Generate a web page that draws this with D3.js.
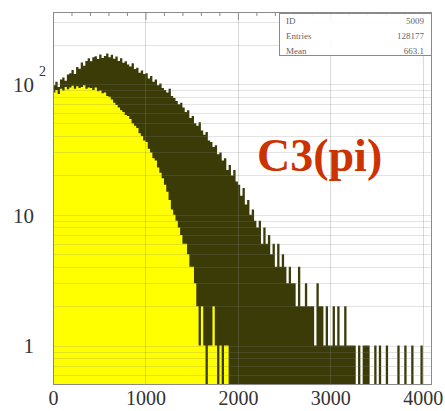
<!DOCTYPE html>
<html>
<head>
<meta charset="utf-8">
<script src="https://cdn.jsdelivr.net/npm/d3@7"></script>
<style>
  html, body { margin: 0; padding: 0; background: #fff; }
  svg { display: block; }
</style>
</head>
<body>
<svg id="chart" width="445" height="411"></svg>
<script>
// Bin width of both histograms (x units)
const binWidth = 25;

// Full C3 spectrum, counts per 25-wide bin starting at 0
const allCounts = [
  98, 104, 95, 108,   112, 106, 118, 121,   128, 119, 135, 131,   146, 138, 150, 157,
  149, 160, 163, 155, 168, 158, 164, 171,   160, 167, 156, 162,   150, 157, 145, 149,
  141, 136, 144, 130, 133, 122, 127, 119,   121, 110, 115, 104,   108, 98, 101, 93,
  90, 86, 92, 81,     78, 74, 70, 72,       66, 61, 63, 55,       57, 50, 48, 51,
  44, 41, 43, 37,     36, 33, 34, 29,       30, 26, 27, 22,       24, 20, 22, 18,
  17, 14, 16, 12,     13, 10, 11, 9,        8, 9, 6, 8,           6, 7, 5, 6,
  4, 6, 4, 5,         4, 3, 4, 3,           3, 2, 4, 2,           2, 3, 2, 2,
  2, 1, 3, 2,         2, 1, 2, 1,           1, 2, 1, 2,           1, 1, 2, 1,
  1, 1, 1, 0,         1, 0, 1, 1,           1, 0, 0, 1,           0, 1, 0, 0,
  1, 0, 0, 0,         0, 1, 0, 0,           1, 0, 0, 1,           0, 0, 0, 1,
  0, 0, 0, 0
];

// Selected (pion) subset, counts per 25-wide bin starting at 0
const pionCounts = [
  86, 90, 84, 92,     89, 95, 91, 94,       97, 92, 96, 93,       95, 98, 92, 94,
  93, 90, 94, 88,     89, 85, 86, 81,       80, 76, 72, 69,       66, 63, 61, 58,
  57, 54, 50, 48,     46, 42, 40, 37,       36, 32, 30, 27,       26, 23, 21, 19,
  17, 15, 13, 11,     10, 9, 8, 7,          6, 6, 5, 4,           4, 3, 2, 1,
  2, 1, 0, 1,         1, 2, 1, 0,           1, 0, 1, 1,           0, 0, 0, 0
];

// Axis ticks
const xTicks = [0, 1000, 2000, 3000, 4000];
const yTicks = [1, 10, 100];

// Statistics box
const statNames = ["ID", "Entries", "Mean"];
const statValues = ["5009", "128177", "663.1"];

const title = "C3(pi)";

const svg = d3.select("#chart");
const plot = { left: 53, right: 432, top: 12, bottom: 385 };

const x = d3.scaleLinear().domain([0, 4100]).range([plot.left, plot.right]);
const y = d3.scaleLog().domain([0.5, 355]).range([plot.bottom, plot.top]);

// Step outline of a histogram; empty bins fall to the baseline
function histPath(counts) {
  const pts = counts.map((c, i) => [i * binWidth, c]);
  pts.push([counts.length * binWidth, counts[counts.length - 1]]);
  return d3.area()
    .x(d => x(d[0]))
    .y0(plot.bottom)
    .y1(d => d[1] > 0 ? y(d[1]) : plot.bottom)
    .curve(d3.curveStepAfter)(pts);
}

svg.append("defs").append("clipPath").attr("id", "frame")
  .append("rect")
  .attr("x", plot.left).attr("y", plot.top)
  .attr("width", plot.right - plot.left).attr("height", plot.bottom - plot.top);

const body = svg.append("g").attr("clip-path", "url(#frame)");

body.append("path")
  .attr("d", histPath(allCounts))
  .attr("fill", "#3b3b08");

body.append("path")
  .attr("d", histPath(pionCounts))
  .attr("fill", "#ffff00");

// Grid on top of the histograms
const minorY = [];
[0.1, 1, 10, 100].forEach(dec => {
  for (let k = 1; k <= 9; k++) {
    const v = dec * k;
    if (v >= 0.5 && v <= 355) minorY.push(v);
  }
});
body.append("g").selectAll("line").data(minorY).join("line")
  .attr("x1", plot.left).attr("x2", plot.right)
  .attr("y1", d => Math.round(y(d)) + 0.5).attr("y2", d => Math.round(y(d)) + 0.5)
  .attr("stroke", "#808080").attr("stroke-opacity", 0.22);
body.append("g").selectAll("line").data(xTicks.slice(1)).join("line")
  .attr("y1", plot.top).attr("y2", plot.bottom)
  .attr("x1", d => Math.round(x(d)) + 0.5).attr("x2", d => Math.round(x(d)) + 0.5)
  .attr("stroke", "#808080").attr("stroke-opacity", 0.3);

// Frame
svg.append("rect")
  .attr("x", plot.left + 0.5).attr("y", plot.top + 0.5)
  .attr("width", plot.right - plot.left - 1).attr("height", plot.bottom - plot.top - 1)
  .attr("fill", "none").attr("stroke", "#8a8a8a");

// Small ticks along the top edge
const topAxis = d3.axisBottom(x).tickValues(d3.range(0, 4001, 200)).tickFormat("")
  .tickSize(4).tickSizeOuter(0);
svg.append("g").attr("transform", `translate(0,${plot.top})`).call(topAxis)
  .call(g => g.select(".domain").remove())
  .selectAll("line").attr("stroke", "#8a8a8a")
  .attr("y2", d => d % 1000 === 0 ? 8 : 4);

// Bottom axis labels
const xAxis = d3.axisBottom(x).tickValues(xTicks).tickFormat(d3.format("d"))
  .tickSize(0).tickPadding(0);
svg.append("g").attr("transform", `translate(0,${plot.bottom})`).call(xAxis)
  .call(g => g.select(".domain").remove())
  .selectAll("text")
  .attr("dy", null).attr("y", 20)
  .attr("font-family", "Liberation Serif, Times New Roman, serif")
  .attr("font-size", 20).attr("fill", "#333");

// Left axis labels (powers of ten)
const yAxis = d3.axisLeft(y).tickValues(yTicks)
  .tickFormat(d => d === 100 ? "10" : String(d))
  .tickSize(0).tickPadding(0);
const yG = svg.append("g").attr("transform", "translate(34,0)").call(yAxis)
  .call(g => g.select(".domain").remove());
yG.selectAll("text")
  .attr("x", 0).attr("dy", "0.35em")
  .attr("font-family", "Liberation Serif, Times New Roman, serif")
  .attr("font-size", 21).attr("fill", "#333");
yG.selectAll(".tick").filter(d => d === 100).append("text")
  .attr("x", 5).attr("y", -8).attr("text-anchor", "start")
  .attr("font-family", "Liberation Serif, Times New Roman, serif")
  .attr("font-size", 14).attr("fill", "#333")
  .text("2");

// Statistics box
const box = { x: 279, y: 13, w: 153, h: 42 };
const stats = svg.append("g");
stats.append("rect")
  .attr("x", box.x + 0.5).attr("y", box.y + 0.5)
  .attr("width", box.w - 1).attr("height", box.h)
  .attr("fill", "#fff").attr("fill-opacity", 0.9)
  .attr("stroke", "#8a8a8a");
statNames.forEach((name, i) => {
  const ty = box.y + 8 + i * 15;
  stats.append("text")
    .attr("x", box.x + 7).attr("y", ty).attr("dy", "0.35em")
    .attr("font-family", "Liberation Serif, serif").attr("font-size", 9)
    .attr("fill", "#666").text(name);
  stats.append("text")
    .attr("x", box.x + box.w - 8).attr("y", ty).attr("dy", "0.35em")
    .attr("text-anchor", "end")
    .attr("font-family", "Liberation Serif, serif").attr("font-size", 9)
    .attr("fill", "#666").text(statValues[i]);
});

// Title label
svg.append("text")
  .attr("x", 257).attr("y", 171)
  .attr("font-family", "Liberation Serif, Times New Roman, serif")
  .attr("font-weight", "bold").attr("font-size", 46)
  .attr("fill", "#cc3300")
  .text(title);
</script>
</body>
</html>
